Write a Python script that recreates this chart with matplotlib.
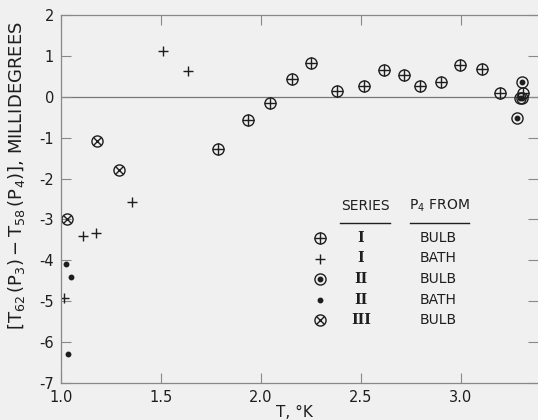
import numpy as np
import matplotlib.pyplot as plt

# datos
bulb1_t = [1.783, 1.933, 2.047, 2.157, 2.252, 2.380, 2.516, 2.616, 2.716, 2.796, 2.900, 2.995, 3.105, 3.195, 3.310]
bulb1_d = [-1.28, -0.57, -0.15, 0.43, 0.83, 0.14, 0.26, 0.65, 0.53, 0.26, 0.36, 0.78, 0.68, 0.09, 0.09]

bath1_t = [1.015, 1.110, 1.175, 1.354, 1.508, 1.636]
bath1_d = [-4.93, -3.41, -3.33, -2.57, 1.12, 0.63]

bulb2_t = [3.280, 3.294, 3.304, 3.306]
bulb2_d = [-0.52, -0.03, 0.36, -0.02]

bath2_t = [1.025, 1.050, 1.035]
bath2_d = [-4.09, -4.40, -6.29]

bulb3_t = [1.030, 1.180, 1.290]
bulb3_d = [-2.99, -1.09, -1.79]

xticks = [1.0, 1.5, 2.0, 2.5, 3.0]
yticks = [2, 1, 0, -1, -2, -3, -4, -5, -6, -7]

fondo = '#f0f0f0'
tinta = '#1e1e1e'
ms = 8


def circulo(ax, x, y, interior):
    ax.plot(x, y, 'o', ms=ms, mfc='none', mec=tinta, mew=1.0, ls='none', clip_on=False)
    if interior == '+':
        ax.plot(x, y, '+', ms=ms, mec=tinta, mew=1.0, ls='none', clip_on=False)
    elif interior == 'x':
        ax.plot(x, y, 'x', ms=ms * 0.68, mec=tinta, mew=1.0, ls='none', clip_on=False)
    elif interior == '.':
        ax.plot(x, y, 'o', ms=3.2, mfc=tinta, mec=tinta, ls='none', clip_on=False)


def main():
    plt.rcParams['font.family'] = ['DejaVu Sans']
    plt.rcParams['mathtext.default'] = 'regular'

    fig = plt.figure(figsize=(5.38, 4.2), dpi=100, facecolor=fondo)
    ax = fig.add_axes([61 / 538, 1 - 383 / 420, 1 - 61 / 538, 368 / 420])
    ax.set_facecolor(fondo)

    ax.axhline(0, color='#777777', lw=0.9, zorder=0)

    circulo(ax, bulb1_t, bulb1_d, '+')
    ax.plot(bath1_t, bath1_d, '+', ms=7, mec=tinta, mew=1.0, ls='none')
    circulo(ax, bulb2_t, bulb2_d, '.')
    ax.plot(bath2_t, bath2_d, 'o', ms=3.2, mfc=tinta, mec=tinta, ls='none')
    circulo(ax, bulb3_t, bulb3_d, 'x')

    ax.set_xlim(1.0, 3.385)
    ax.set_ylim(-7, 2)
    ax.set_xticks(xticks)
    ax.set_xticklabels([f'{v:.1f}' for v in xticks])
    ax.set_yticks(yticks)
    ax.set_yticklabels([str(v) for v in yticks])
    ax.tick_params(direction='in', length=7, width=0.8, color='#888888',
                   top=True, right=True, labelsize=10.5, labelcolor=tinta, pad=5)
    for lado in ['left', 'bottom', 'top']:
        ax.spines[lado].set_color('#888888')
        ax.spines[lado].set_linewidth(0.9)
    ax.spines['right'].set_visible(False)

    ax.set_xlabel('T, °K', fontsize=11, color=tinta, labelpad=2)
    ax.xaxis.set_label_coords(0.49, -0.06)
    ax.set_ylabel(r'$[T_{62}\,(P_3)-T_{58}\,(P_4)]$, MILLIDEGREES',
                  fontsize=13, color=tinta)
    ax.yaxis.set_label_coords(-0.072, 0.565)

    # leyenda manual
    tr = ax.transAxes
    def px(x, y):
        return ((x - 61) / 477, (383 - y) / 368)

    ax.text(*px(365, 206), 'SERIES', transform=tr, ha='center', va='center',
            fontsize=10, color=tinta)
    ax.text(*px(439, 206), r'$P_4$ FROM', transform=tr, ha='center', va='center',
            fontsize=10, color=tinta)
    ax.plot([px(340, 0)[0], px(390, 0)[0]], [px(0, 223)[1]] * 2, transform=tr,
            color=tinta, lw=1.0)
    ax.plot([px(410, 0)[0], px(469, 0)[0]], [px(0, 223)[1]] * 2, transform=tr,
            color=tinta, lw=1.0)

    filas = [('+', 'I', 'BULB'), ('p', 'I', 'BATH'), ('.', 'II', 'BULB'),
             ('d', 'II', 'BATH'), ('x', 'III', 'BULB')]
    for i, (m, serie, fuente) in enumerate(filas):
        y = 238 + i * 20.5
        mx, my = px(320, y)
        if m == 'p':
            ax.plot(mx, my, '+', ms=7, mec=tinta, mew=1.0, transform=tr)
        elif m == 'd':
            ax.plot(mx, my, 'o', ms=3.2, mfc=tinta, mec=tinta, transform=tr)
        else:
            ax.plot(mx, my, 'o', ms=ms, mfc='none', mec=tinta, mew=1.0, transform=tr)
            if m == '+':
                ax.plot(mx, my, '+', ms=ms, mec=tinta, mew=1.0, transform=tr)
            elif m == 'x':
                ax.plot(mx, my, 'x', ms=ms * 0.68, mec=tinta, mew=1.0, transform=tr)
            else:
                ax.plot(mx, my, 'o', ms=3.2, mfc=tinta, mec=tinta, transform=tr)
        ax.text(*px(361, y), serie, transform=tr, ha='center', va='center',
                fontsize=10, color=tinta, family='DejaVu Serif', fontweight='bold')
        ax.text(*px(438, y), fuente, transform=tr, ha='center', va='center',
                fontsize=10, color=tinta)

    fig.savefig('out.png', dpi=100, facecolor=fondo)


if __name__ == "__main__":
    main()
